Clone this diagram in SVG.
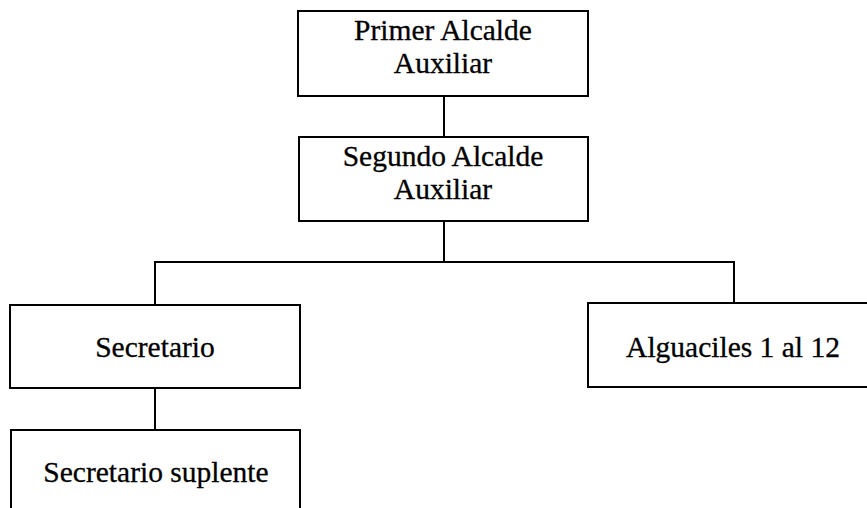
<svg xmlns="http://www.w3.org/2000/svg" width="867" height="508" viewBox="0 0 867 508">
<style>
.box{fill:#fff;stroke:#000;stroke-width:2}
.ln{fill:none;stroke:#000;stroke-width:2}
text{font-family:"Liberation Serif","Times New Roman",serif;font-size:29.5px;fill:#000;stroke:#000;stroke-width:0.3;text-anchor:middle}
</style>
<rect width="867" height="508" fill="#fff"/>
<g id="connectors">
<line class="ln" x1="444" y1="96" x2="444" y2="137"/>
<line class="ln" x1="444" y1="221" x2="444" y2="262"/>
<polyline class="ln" points="155,305 155,262 734,262 734,303"/>
<line class="ln" x1="155" y1="388" x2="155" y2="430"/>
</g>
<g id="primer">
<rect class="box" x="298" y="11" width="290" height="85"/>
<text x="443" y="40">Primer Alcalde</text>
<text x="443" y="73">Auxiliar</text>
</g>
<g id="segundo">
<rect class="box" x="299" y="137" width="289" height="84"/>
<text x="443" y="166">Segundo Alcalde</text>
<text x="443" y="199">Auxiliar</text>
</g>
<g id="secretario">
<rect class="box" x="10" y="305" width="290" height="83"/>
<text x="155" y="357">Secretario</text>
</g>
<g id="alguaciles">
<rect class="box" x="588" y="303" width="300" height="84"/>
<text x="733" y="357">Alguaciles 1 al 12</text>
</g>
<g id="suplente">
<rect class="box" x="11" y="430" width="289" height="100"/>
<text x="156" y="482">Secretario suplente</text>
</g>
</svg>
